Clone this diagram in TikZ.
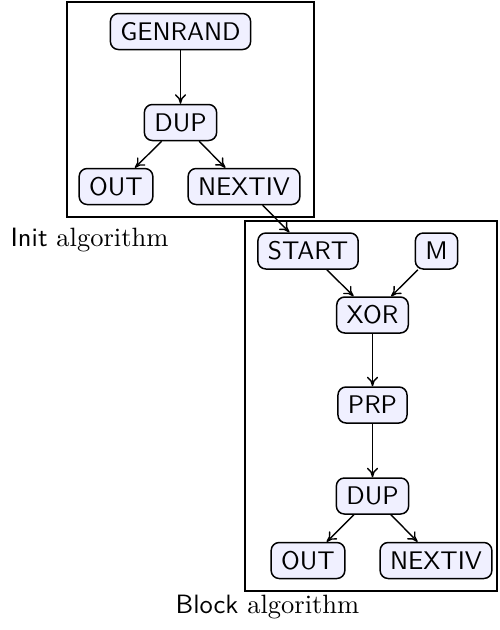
\documentclass[tikz,border=0pt]{standalone}
\usepackage{fontspec}
\setmainfont{lmroman10-regular.otf}
\setsansfont{lmsans10-regular.otf}
\usetikzlibrary{arrows.meta}
\begin{document}
\begin{tikzpicture}[x=1pt,y=-1pt,
  op/.style={draw, line width=1.5pt, rounded corners=8pt, fill=blue!6,
    font=\sffamily\fontsize{25.5}{29}\selectfont, inner xsep=10pt, inner ysep=0pt,
    minimum height=36pt, text height=17.5pt, text depth=0pt},
  frame/.style={draw, line width=2.2pt, inner sep=0pt},
  lab/.style={font=\fontsize{26.5}{31}\selectfont, inner sep=0pt},
  conn/.style={line width=1.4pt, -{To[length=6pt,width=7pt,scale=1.6]}}]
\useasboundingbox (0,0) rectangle (499,630);
% frames
\node[frame, minimum width=247pt, minimum height=215pt] (f1) at (190.5,109.5) {};
\node[frame, minimum width=252pt, minimum height=370pt] (f2) at (371,406) {};
% init
\node[op] (gen) at (180.5,31.5) {GENRAND};
\node[op] (dup1) at (180.5,122.5) {DUP};
\node[op] (out1) at (116,186.5) {OUT};
\node[op] (nxt1) at (244,186.5) {NEXTIV};
% block
\node[op] (start) at (308,251) {START};
\node[op] (m) at (436.5,251) {M};
\node[op] (xor) at (372.5,315) {XOR};
\node[op] (prp) at (372.5,405) {PRP};
\node[op] (dup2) at (372.5,496) {DUP};
\node[op] (out2) at (308,560.5) {OUT};
\node[op] (nxt2) at (436,560.5) {NEXTIV};
% labels
\node[lab] (l1) at (89.5,240) {\textsf{Init} algorithm};
\node[lab] (l2) at (267.5,607) {\textsf{Block} algorithm};
% connectors
\draw[conn] (gen) -- (dup1);
\draw[conn] (dup1) -- (out1);
\draw[conn] (dup1) -- (nxt1);
\draw[conn] (nxt1) -- (start);
\draw[conn] (start) -- (xor);
\draw[conn] (m) -- (xor);
\draw[conn] (xor) -- (prp);
\draw[conn] (prp) -- (dup2);
\draw[conn] (dup2) -- (out2);
\draw[conn] (dup2) -- (nxt2);
\end{tikzpicture}
\end{document}
